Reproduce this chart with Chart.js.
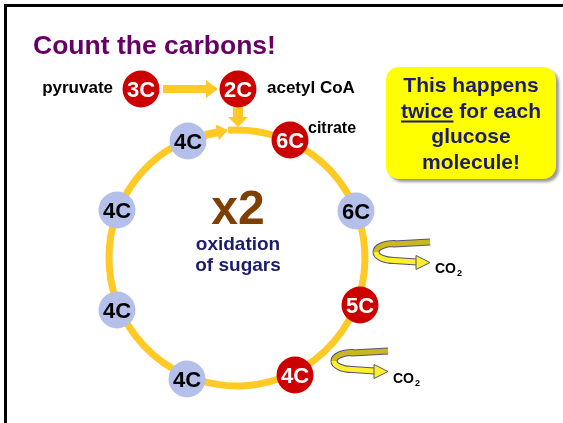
<!DOCTYPE html>
<html>
<head>
<meta charset="utf-8">
<script src="https://cdn.jsdelivr.net/npm/chart.js@4.4.0/dist/chart.umd.min.js"></script>
<style>
  html, body { margin: 0; padding: 0; background: #fff; }
  #wrap { width: 563px; height: 423px; }
</style>
</head>
<body>
<div id="wrap"><canvas id="cycle" width="563" height="423"></canvas></div>
<script>
// carbon counts round the cycle (x, y, y grows downward)
const nodeLabels = ["3C", "2C", "4C", "6C", "4C", "6C", "4C", "5C", "4C", "4C"];
const nodeX = [141, 238, 188, 290, 117, 356, 117, 360, 187, 295];
const nodeY = [89, 89, 141, 140, 210, 211, 310, 305, 379, 375];
const nodeKind = ["red", "red", "blue", "red", "blue", "blue", "blue", "red", "blue", "red"];

// ring of the cycle: centre and radius
const ringCenter = [237, 258];
const ringRadius = 128;

// CO2 release points (right end of the curl)
const co2X = [430, 388];
const co2Y = [242, 351];

const boxLines = ["This happens", "twice for each", "glucose", "molecule!"];

const RED = "#cc0000";
const BLUE = "#b4bfea";
const GOLD = "#ffc926";
const NAVY = "#1c1c6e";
const FONT = '"Liberation Sans", Arial, sans-serif';

function arrow(ctx, x1, y1, x2, y2, shaft, head, headLen) {
    const a = Math.atan2(y2 - y1, x2 - x1);
    const len = Math.hypot(x2 - x1, y2 - y1);
    ctx.save();
    ctx.translate(x1, y1);
    ctx.rotate(a);
    ctx.fillStyle = GOLD;
    ctx.beginPath();
    ctx.moveTo(0, -shaft / 2);
    ctx.lineTo(len - headLen, -shaft / 2);
    ctx.lineTo(len - headLen, -head / 2);
    ctx.lineTo(len, 0);
    ctx.lineTo(len - headLen, head / 2);
    ctx.lineTo(len - headLen, shaft / 2);
    ctx.lineTo(0, shaft / 2);
    ctx.closePath();
    ctx.fill();
    ctx.restore();
}

function curl(ctx, ox, oy) {
    const cx = ox - 36, cy = oy + 10, rx = 18, ry = 8.5;
    ctx.save();
    ctx.lineCap = "butt";
    ctx.lineJoin = "round";
    // back half (darker)
    ctx.beginPath();
    ctx.moveTo(ox, oy);
    ctx.lineTo(cx, cy - ry + 0.5);
    ctx.ellipse(cx, cy, rx, ry, 0, -Math.PI / 2, Math.PI, true);
    ctx.strokeStyle = "#54547e"; ctx.lineWidth = 7; ctx.stroke();
    ctx.strokeStyle = "#cbb71e"; ctx.lineWidth = 5; ctx.stroke();
    // front half (bright)
    ctx.beginPath();
    ctx.ellipse(cx, cy, rx, ry, 0, Math.PI, Math.PI / 2, true);
    ctx.lineTo(ox - 13, oy + 20);
    ctx.strokeStyle = "#54547e"; ctx.lineWidth = 7; ctx.stroke();
    ctx.strokeStyle = "#fff02a"; ctx.lineWidth = 5; ctx.stroke();
    // head
    ctx.beginPath();
    ctx.moveTo(ox - 14, oy + 13.5);
    ctx.lineTo(ox, oy + 20.5);
    ctx.lineTo(ox - 14, oy + 27.5);
    ctx.closePath();
    ctx.fillStyle = "#fff02a"; ctx.fill();
    ctx.strokeStyle = "#54547e"; ctx.lineWidth = 1; ctx.stroke();
    ctx.restore();
}

const cyclePlugin = {
    id: "cycle",
    beforeDatasetsDraw(chart) {
        const ctx = chart.ctx;
        const sx = chart.scales.x, sy = chart.scales.y;
        const px = v => sx.getPixelForValue(v);
        const py = v => sy.getPixelForValue(v);

        // frame
        ctx.fillStyle = "#000";
        ctx.fillRect(4, 4, 559, 3);
        ctx.fillRect(4, 4, 3, 419);

        // ring
        const cx = px(ringCenter[0]), cy = py(ringCenter[1]);
        const r = px(ringCenter[0] + ringRadius) - cx;
        ctx.save();
        ctx.strokeStyle = GOLD;
        ctx.lineWidth = 7;
        ctx.beginPath();
        ctx.arc(cx, cy, r, -94 * Math.PI / 180, 250 * Math.PI / 180, false);
        ctx.stroke();
        ctx.restore();

        // feed-in arrows
        arrow(ctx, px(nodeX[0]) + 22, py(nodeY[0]), px(nodeX[1]) - 20, py(nodeY[1]), 8, 18, 12);
        arrow(ctx, px(nodeX[1]), py(nodeY[1]) + 18, px(nodeX[1]), cy - r - 3, 10, 20, 10);
        arrow(ctx, px(nodeX[2]) + 17, py(nodeY[2]) - 6, cx - 9, cy - r, 8, 16, 11);

        co2X.forEach((x, i) => curl(ctx, px(x), py(co2Y[i])));
    },
    afterDatasetsDraw(chart) {
        const ctx = chart.ctx;
        const meta = chart.getDatasetMeta(0);
        ctx.save();
        ctx.textAlign = "center";
        ctx.textBaseline = "alphabetic";
        ctx.font = "bold 22px " + FONT;
        meta.data.forEach((pt, i) => {
            ctx.fillStyle = nodeKind[i] === "red" ? "#fff" : "#000";
            ctx.fillText(nodeLabels[i], pt.x, pt.y + 8);
        });

        // names
        ctx.fillStyle = "#000";
        ctx.font = "bold 17px " + FONT;
        ctx.textAlign = "right";
        ctx.fillText("pyruvate", 113, 93);
        ctx.textAlign = "left";
        ctx.fillText("acetyl CoA", 267, 93);
        ctx.font = "bold 16px " + FONT;
        ctx.fillText("citrate", 308, 133);

        // CO2 labels
        [[435, 273], [393, 383]].forEach(([x, y]) => {
            ctx.font = "bold 14px " + FONT;
            ctx.fillText("CO", x, y);
            const w = ctx.measureText("CO").width;
            ctx.font = "bold 9px " + FONT;
            ctx.fillText("2", x + w + 1, y + 3);
        });

        // title
        ctx.fillStyle = "#660066";
        ctx.font = "bold 26.5px " + FONT;
        ctx.fillText("Count the carbons!", 33, 54);

        // centre
        ctx.textAlign = "center";
        ctx.fillStyle = "#7f3f00";
        ctx.font = "bold 48px " + FONT;
        ctx.fillText("x2", 238, 224);
        ctx.fillStyle = NAVY;
        ctx.font = "bold 19px " + FONT;
        ctx.fillText("oxidation", 238, 250);
        ctx.fillText("of sugars", 238, 271);

        // note box
        ctx.save();
        ctx.shadowColor = "rgba(0,0,0,0.4)";
        ctx.shadowOffsetX = 3;
        ctx.shadowOffsetY = 3;
        ctx.shadowBlur = 3;
        ctx.fillStyle = "#ffff00";
        ctx.beginPath();
        ctx.roundRect(386, 67, 170, 112, 13);
        ctx.fill();
        ctx.restore();
        ctx.fillStyle = NAVY;
        ctx.font = "bold 21px " + FONT;
        boxLines.forEach((line, i) => {
            const y = 92 + 25.5 * i;
            ctx.textAlign = "center";
            ctx.fillText(line, 471, y);
            if (i === 1) {
                const full = ctx.measureText(line).width;
                const tw = ctx.measureText("twice").width;
                const x0 = 471 - full / 2;
                ctx.fillRect(x0, y + 3, tw, 2);
            }
        });
        ctx.restore();
    }
};

new Chart(document.getElementById("cycle"), {
    type: "scatter",
    data: {
        datasets: [{
            label: "carbons",
            data: nodeX.map((x, i) => ({ x: x, y: nodeY[i] })),
            pointRadius: 18.5,
            pointHoverRadius: 18.5,
            pointBackgroundColor: nodeKind.map(k => k === "red" ? RED : BLUE),
            pointBorderWidth: 0,
            borderWidth: 0
        }]
    },
    options: {
        responsive: false,
        animation: false,
        events: [],
        devicePixelRatio: 1,
        layout: { padding: 0, autoPadding: false },
        plugins: { legend: { display: false }, tooltip: { enabled: false }, title: { display: false } },
        scales: {
            x: { type: "linear", min: 0, max: 563, display: false },
            y: { type: "linear", min: 0, max: 423, reverse: true, display: false }
        }
    },
    plugins: [cyclePlugin]
});
</script>
</body>
</html>
